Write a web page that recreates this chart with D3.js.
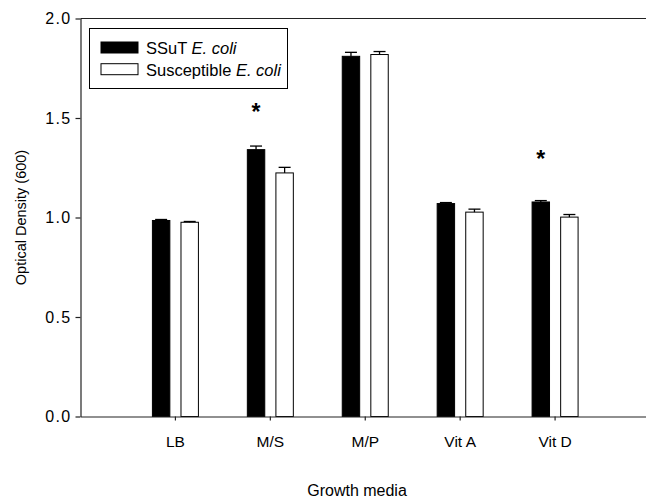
<!DOCTYPE html>
<html>
<head>
<meta charset="utf-8">
<script src="https://d3js.org/d3.v7.min.js"></script>
<style>
  body { margin: 0; background: #fff; }
  svg { display: block; }
  text { font-family: "Liberation Sans", Arial, sans-serif; fill: #000; }
</style>
</head>
<body>
<div id="chart"></div>
<script>
// data
const categories = ["LB", "M/S", "M/P", "Vit A", "Vit D"];
const seriesNames = ["SSuT", "Susceptible"];
const ssutValues = [0.985, 1.341, 1.810, 1.070, 1.078];
const ssutErrors = [0.005, 0.018, 0.020, 0.005, 0.007];
const suscValues = [0.976, 1.224, 1.819, 1.027, 1.002];
const suscErrors = [0.004, 0.028, 0.015, 0.015, 0.013];
const yTicks = [0.0, 0.5, 1.0, 1.5, 2.0];
const starCategories = ["M/S", "Vit D"];
const starValues = [1.554, 1.318];

const width = 646, height = 500;
const plotLeft = 80.5, plotTop = 18.5, plotBottom = 416.5;

const svg = d3.select("#chart").append("svg")
  .attr("width", width)
  .attr("height", height);

const x0 = d3.scaleBand()
  .domain(categories)
  .range([plotLeft, 650])
  .paddingInner(0)
  .paddingOuter(0.5);

const x1 = d3.scaleBand()
  .domain([0, 1])
  .range([x0.bandwidth() / 2 - 23, x0.bandwidth() / 2 + 23])
  .paddingInner(0.39);

const y = d3.scaleLinear()
  .domain([0, 2])
  .range([plotBottom, plotTop]);

const rows = categories.map((c, i) => ({
  cat: c,
  vals: [
    { s: 0, v: ssutValues[i], e: ssutErrors[i] },
    { s: 1, v: suscValues[i], e: suscErrors[i] }
  ]
}));

// bars
const groups = svg.append("g")
  .selectAll("g")
  .data(rows)
  .enter()
  .append("g")
  .attr("transform", (d) => `translate(${x0(d.cat)},0)`);

groups.selectAll("rect")
  .data((d) => d.vals)
  .enter()
  .append("rect")
  .attr("x", (d) => x1(d.s))
  .attr("y", (d) => y(d.v))
  .attr("width", x1.bandwidth())
  .attr("height", (d) => y(0) - y(d.v))
  .attr("fill", (d) => (d.s === 0 ? "#000" : "#fff"))
  .attr("stroke", "#000")
  .attr("stroke-width", 1);

// error bars (upper only)
const err = groups.selectAll("g.err")
  .data((d) => d.vals)
  .enter()
  .append("g")
  .attr("class", "err")
  .attr("stroke", "#000")
  .attr("stroke-width", 1.3);

err.append("line")
  .attr("x1", (d) => x1(d.s) + x1.bandwidth() / 2)
  .attr("x2", (d) => x1(d.s) + x1.bandwidth() / 2)
  .attr("y1", (d) => y(d.v))
  .attr("y2", (d) => y(d.v + d.e));

err.append("line")
  .attr("x1", (d) => x1(d.s) + x1.bandwidth() / 2 - 6)
  .attr("x2", (d) => x1(d.s) + x1.bandwidth() / 2 + 6)
  .attr("y1", (d) => y(d.v + d.e))
  .attr("y2", (d) => y(d.v + d.e));

// significance stars
svg.append("g")
  .selectAll("text")
  .data(starCategories)
  .enter()
  .append("text")
  .attr("x", (d) => x0(d) + x1(0) + x1.bandwidth() / 2)
  .attr("y", (d, i) => y(starValues[i]) + 13)
  .attr("text-anchor", "middle")
  .style("font-size", "23px")
  .style("font-weight", "bold")
  .text("*");

// axes
const yAxis = svg.append("g")
  .attr("transform", `translate(${plotLeft},0)`)
  .call(d3.axisLeft(y).tickValues(yTicks).tickFormat(d3.format(".1f")).tickSize(5).tickSizeOuter(0));

const xAxis = svg.append("g")
  .attr("transform", `translate(0,${plotBottom})`)
  .call(d3.axisBottom(x0).tickSize(4).tickSizeOuter(0));

[yAxis, xAxis].forEach((a) => {
  a.selectAll("path, line").attr("stroke", "#222").attr("stroke-width", 1.2);
  a.selectAll("text").style("font-size", "15.5px").attr("fill", "#000");
});
xAxis.selectAll("text").attr("y", 19).attr("dy", "0.71em");
yAxis.selectAll("text")
  .attr("x", -9)
  .style("font-size", "16px")
  .style("letter-spacing", "1.3px");

// top frame line
svg.append("line")
  .attr("x1", plotLeft).attr("x2", width)
  .attr("y1", y(2)).attr("y2", y(2))
  .attr("stroke", "#222").attr("stroke-width", 1.2);

// axis titles
svg.append("text")
  .attr("transform", `translate(26,${(plotTop + plotBottom) / 2}) rotate(-90)`)
  .attr("text-anchor", "middle")
  .style("font-size", "14.5px")
  .text("Optical Density (600)");

svg.append("text")
  .attr("x", 357)
  .attr("y", 496)
  .attr("text-anchor", "middle")
  .style("font-size", "16px")
  .text("Growth media");

// legend
const legend = svg.append("g");
legend.append("rect")
  .attr("x", 89.5).attr("y", 28.5)
  .attr("width", 198).attr("height", 60)
  .attr("fill", "#fff").attr("stroke", "#000").attr("stroke-width", 1);

const legendItems = legend.selectAll("g.item")
  .data(seriesNames)
  .enter()
  .append("g")
  .attr("class", "item")
  .attr("transform", (d, i) => `translate(0,${i * 21.7})`);

legendItems.append("rect")
  .attr("x", 101).attr("y", 42)
  .attr("width", 37).attr("height", 11)
  .attr("fill", (d, i) => (i === 0 ? "#000" : "#fff"))
  .attr("stroke", "#000").attr("stroke-width", 1);

const lt = legendItems.append("text")
  .attr("x", 146).attr("y", 54)
  .style("font-size", "16.5px");
lt.append("tspan").text((d) => d + " ");
lt.append("tspan").style("font-style", "italic").text("E. coli");
</script>
</body>
</html>
